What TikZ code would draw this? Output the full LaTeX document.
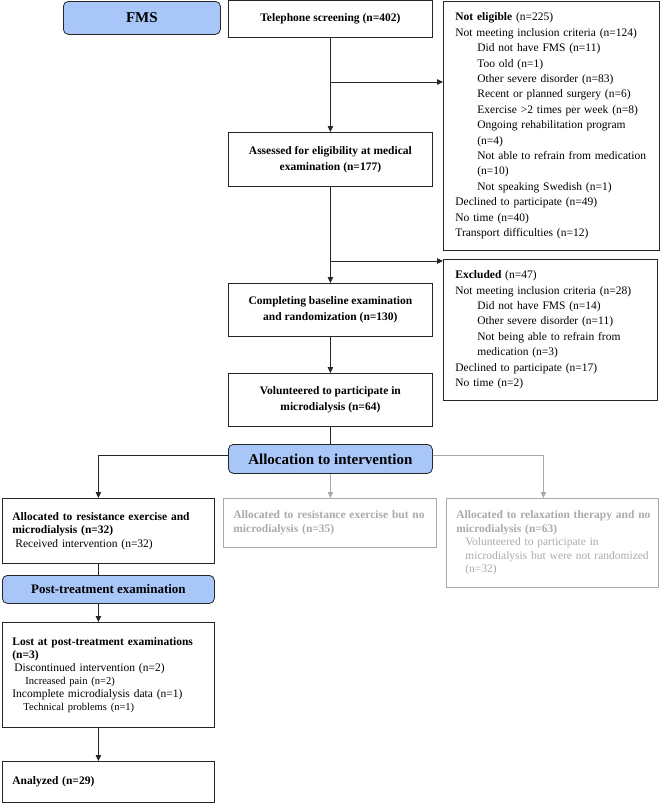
\documentclass[tikz,border=0pt]{standalone}
\usepackage{fontspec}
\setmainfont{Liberation Serif}
\usetikzlibrary{arrows.meta,positioning}
\definecolor{phaseblue}{RGB}{168,198,248}
\definecolor{greyout}{RGB}{170,170,170}
\newcommand{\ind}{\hspace*{22pt}}

\begin{document}
\begin{tikzpicture}[
		x=1pt, y=-1pt,
		line width=0.8pt,
		flow/.style={draw=black!85, -{Triangle[length=6pt,width=5.5pt]}},
		box/.style={draw=black!85, anchor=north west, inner sep=0pt, align=center,
			font=\bfseries\fontsize{11.5}{16}\selectfont},
		listbox/.style={box, align=left, inner xsep=10pt,
			font=\fontsize{11.5}{13.5}\selectfont},
		phase/.style={box, rounded corners=5pt, fill=phaseblue},
		faded/.style={draw=greyout, text=greyout},
	]
	\useasboundingbox (0,0) rectangle (660,803);

	% screening and eligibility
	\node[phase, minimum width=157pt, minimum height=33pt,
		font=\bfseries\fontsize{15}{18}\selectfont] (fms) at (63,1) {FMS};
	\node[box, minimum width=204pt, minimum height=37pt] (tel) at (228,0) {Telephone screening (n=402)};
	\node[listbox, inner xsep=12pt, text width=192pt, minimum height=249pt,
		font=\fontsize{11.5}{15.4}\selectfont] (noteli) at (443,1) {%
		\textbf{Not eligible} (n=225)\\
		Not meeting inclusion criteria (n=124)\\
		\ind Did not have FMS (n=11)\\
		\ind Too old (n=1)\\
		\ind Other severe disorder (n=83)\\
		\ind Recent or planned surgery (n=6)\\
		\ind Exercise >2 times per week (n=8)\\
		\ind Ongoing rehabilitation program\\
		\ind (n=4)\\
		\ind Not able to refrain from medication\\
		\ind (n=10)\\
		\ind Not speaking Swedish (n=1)\\
		Declined to participate (n=49)\\
		No time (n=40)\\
		Transport difficulties (n=12)};
	\node[box, minimum width=204pt, minimum height=54pt] (assessed) at (228,132)
		{Assessed for eligibility at medical\\examination (n=177)};
	\node[listbox, inner xsep=12pt, text width=190pt, minimum height=141pt,
		font=\fontsize{11.5}{15.4}\selectfont] (excluded) at (443,259) {%
		\textbf{Excluded} (n=47)\\
		Not meeting inclusion criteria (n=28)\\
		\ind Did not have FMS (n=14)\\
		\ind Other severe disorder (n=11)\\
		\ind Not being able to refrain from\\
		\ind medication (n=3)\\
		Declined to participate (n=17)\\
		No time (n=2)};
	\node[box, minimum width=204pt, minimum height=53pt] (completing) at (228,283)
		{Completing baseline examination\\and randomization (n=130)};
	\node[box, minimum width=204pt, minimum height=53pt] (volunteered) at (228,373)
		{Volunteered to participate in\\microdialysis (n=64)};

	% allocation
	\node[phase, minimum width=204pt, minimum height=29pt,
		font=\bfseries\fontsize{15}{18}\selectfont] (alloc) at (228,444) {Allocation to intervention};
	\node[listbox, text width=192pt, minimum height=65pt] (arm) at (2,498) {%
		\mbox{\textbf{Allocated to resistance exercise and}}\\
		\textbf{microdialysis (n=32)}\\
		\hspace*{3pt}Received intervention (n=32)};
	\node[listbox, faded, text width=193pt, minimum height=49pt] (nomicro) at (223,498) {%
		\mbox{\textbf{Allocated to resistance exercise but no}}\\
		\textbf{microdialysis (n=35)}};
	\node[listbox, faded, text width=192pt, minimum height=89pt] (relax) at (446,498) {%
		\mbox{\textbf{Allocated to relaxation therapy and no}}\\
		\textbf{microdialysis (n=63)}\\
		\hspace*{9pt}Volunteered to participate in\\
		\mbox{\hspace*{9pt}microdialysis but were not randomized}\\
		\hspace*{9pt}(n=32)};

	% follow-up
	\node[phase, minimum width=212pt, minimum height=28pt,
		font=\bfseries\fontsize{13}{16}\selectfont] (post) at (2,575) {Post-treatment examination};
	\node[listbox, text width=192pt, minimum height=105pt,
		font=\fontsize{11.5}{13}\selectfont] (lost) at (2,622) {%
		\mbox{\textbf{Lost at post-treatment examinations}}\\
		\textbf{(n=3)}\\
		\hspace*{2pt}Discontinued intervention (n=2)\\
		{\fontsize{10.5}{13}\selectfont\hspace*{13pt}Increased pain (n=2)}\\
		Incomplete microdialysis data (n=1)\\
		{\fontsize{10.5}{13}\selectfont\hspace*{11pt}Technical problems (n=1)}};
	\node[listbox, text width=192pt, minimum height=41pt] (analyzed) at (2,761)
		{\textbf{Analyzed (n=29)}};

	\coordinate (split1) at (330,82);
	\coordinate (split2) at (330,261);

	\draw[flow] (tel) -- (assessed);
	\draw[flow] (split1) -- (split1 -| noteli.west);
	\draw[flow] (assessed) -- (completing);
	\draw[flow] (split2) -- (split2 -| excluded.west);
	\draw[flow] (completing) -- (volunteered);
	\draw[draw=black!85] (volunteered) -- (alloc);
	\draw[flow] ([yshift=4pt]alloc.west) -| ([xshift=-10pt]arm.north);
	\draw[flow, faded] (alloc.south) -- (alloc.south |- nomicro.north);
	\draw[flow, faded] ([yshift=4pt]alloc.east) -| ([xshift=-9pt]relax.north);
	\draw[draw=black!85] ([xshift=-10pt]arm.south) -- ([xshift=-10pt]post.north);
	\draw[flow] ([xshift=-10pt]post.south) -- ([xshift=-10pt]lost.north);
	\draw[flow] ([xshift=-10pt]lost.south) -- ([xshift=-10pt]analyzed.north);
\end{tikzpicture}
\end{document}
